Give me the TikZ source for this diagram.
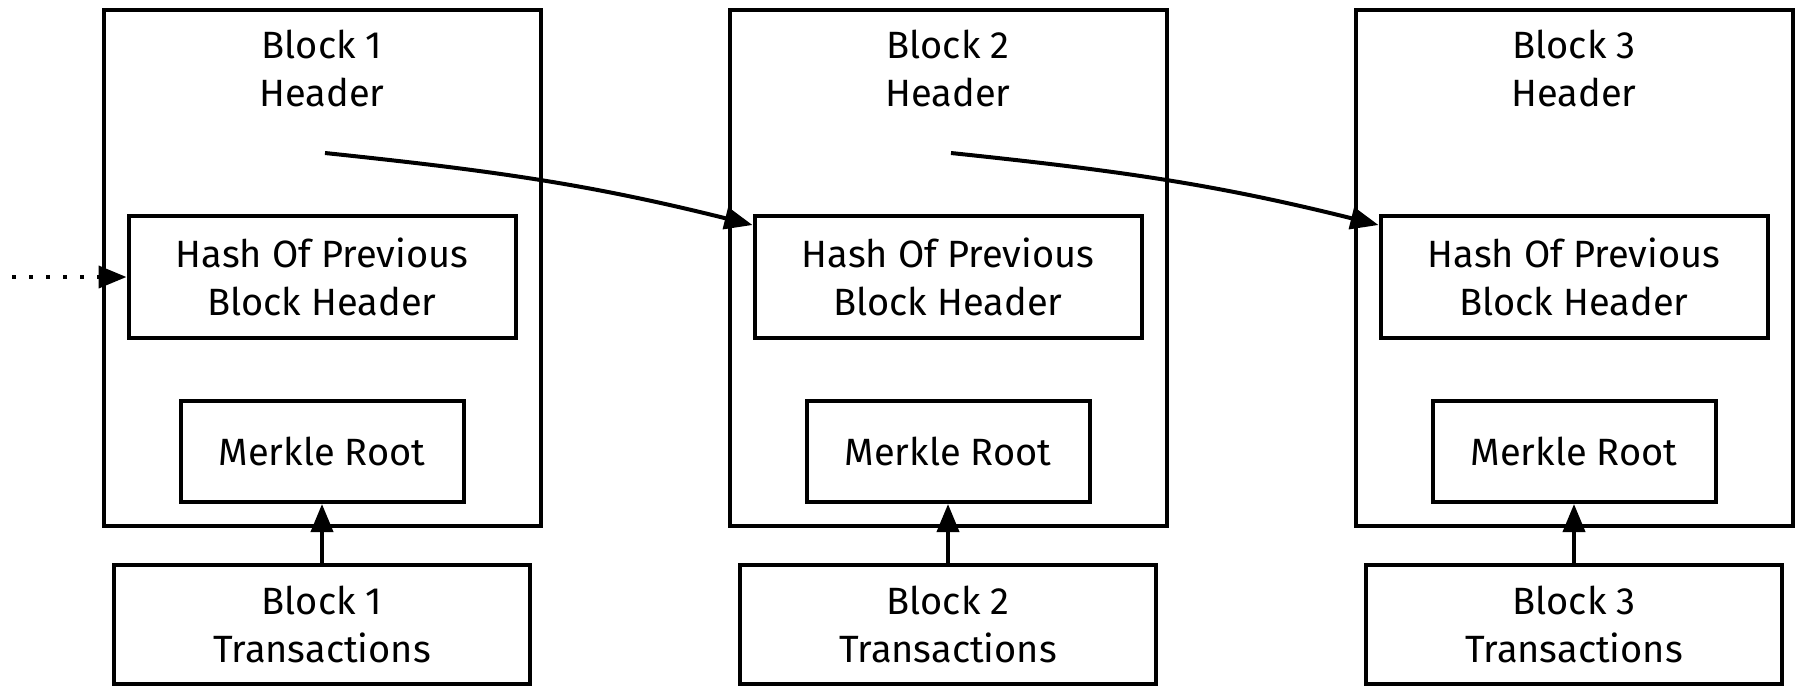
\documentclass[tikz,border=0pt]{standalone}
\usepackage{fontspec}
\setmainfont{Fira Sans}
\usetikzlibrary{positioning,arrows.meta}

\tikzset{
  blockbox/.style={draw, minimum width=218.5pt, minimum height=258pt, inner sep=0pt},
  hashbox/.style={draw, minimum width=193.5pt, minimum height=61pt, align=center, inner sep=0pt},
  rootbox/.style={draw, minimum width=141.5pt, minimum height=50.5pt, inner sep=0pt},
  txbox/.style={draw, minimum width=208pt, minimum height=59.5pt, align=center, inner sep=0pt},
  title/.style={align=center, inner sep=0pt},
}

\begin{document}
\begin{tikzpicture}[x=0.5pt, y=0.5pt, ->, >={Triangle[length=14pt,width=11pt]},
    line width=2pt, font=\fontsize{19}{24}\selectfont]
  \useasboundingbox (0,0) rectangle (1802,-687);

  % block 1
  \node[blockbox] (hdr1) at (322,-268) {};
  \node[title] (lbl1) at (322,-68) {Block 1\\Header};
  \node[hashbox] (hash1) at (322,-277) {Hash Of Previous\\Block Header};
  \node[rootbox] (root1) at (322,-451.5) {Merkle Root};
  \node[txbox] (tx1) at (322,-624.5) {Block 1\\Transactions};
  \coordinate (out1) at (325,-153);

  % block 2
  \node[blockbox] (hdr2) at (948,-268) {};
  \node[title] (lbl2) at (948,-68) {Block 2\\Header};
  \node[hashbox] (hash2) at (948,-277) {Hash Of Previous\\Block Header};
  \node[rootbox] (root2) at (948,-451.5) {Merkle Root};
  \node[txbox] (tx2) at (948,-624.5) {Block 2\\Transactions};
  \coordinate (out2) at (951,-153);

  % block 3
  \node[blockbox] (hdr3) at (1574,-268) {};
  \node[title] (lbl3) at (1574,-68) {Block 3\\Header};
  \node[hashbox] (hash3) at (1574,-277) {Hash Of Previous\\Block Header};
  \node[rootbox] (root3) at (1574,-451.5) {Merkle Root};
  \node[txbox] (tx3) at (1574,-624.5) {Block 3\\Transactions};

  \coordinate (prev) at (12,-277);

  \path
  (prev) edge[dash pattern=on 2pt off 6.5pt] (hash1)
  (tx1) edge (root1)
  (tx2) edge (root2)
  (tx3) edge (root3)
  (out1) edge[out=-6, in=166] ([yshift=-5.5pt]hash2.north west)
  (out2) edge[out=-6, in=166] ([yshift=-5.5pt]hash3.north west);
\end{tikzpicture}
\end{document}
